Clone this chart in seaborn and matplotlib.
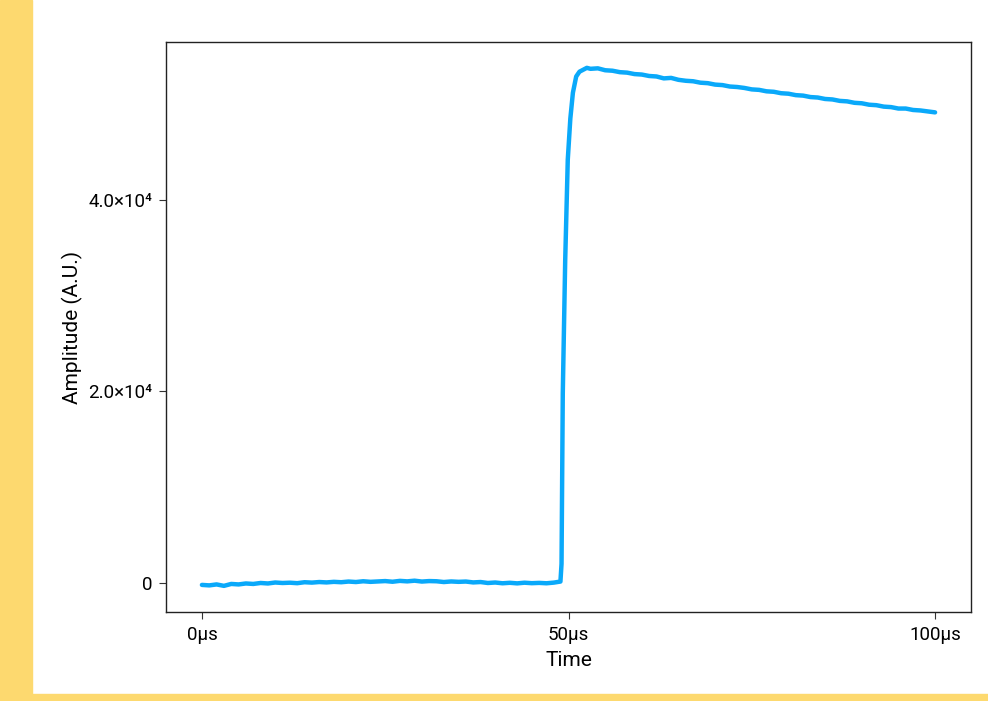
import numpy as np
import pandas as pd
import matplotlib.pyplot as plt
from matplotlib.patches import Rectangle
import seaborn as sns

# baseline before the step, 0..48 us
base_t = list(range(0, 49)) + [48.9]
base_v = [-200, -250, -150, -300, -100, -150, -50, -100, 0, -50,
          50, 0, 30, -20, 80, 40, 100, 60, 120, 80,
          150, 100, 180, 120, 160, 200, 130, 220, 170, 240,
          150, 200, 180, 100, 160, 120, 150, 60, 100, 0,
          50, -30, 20, -40, 30, -20, 10, -30, 40, 150]

# rising edge
rise_t = [49.05, 49.22, 49.55, 49.9, 50.25, 50.6, 51.05, 51.5, 52.0, 52.5]
rise_v = [2000, 19800, 33700, 44200, 48500, 51200, 52900, 53400, 53600, 53800]

# slow decay, 53..100 us
decay_t = list(range(53, 101))
decay_v = [53700, 53750, 53550, 53500, 53350, 53300, 53150, 53100, 52950, 52900,
           52700, 52750, 52550, 52450, 52400, 52250, 52200, 52050, 52000, 51850,
           51800, 51700, 51550, 51500, 51350, 51300, 51150, 51100, 50950, 50900,
           50750, 50700, 50550, 50500, 50350, 50300, 50150, 50100, 49950, 49900,
           49750, 49700, 49550, 49550, 49400, 49350, 49250, 49150]

x_ticks = [0, 50, 100]
x_labels = ["0μs", "50μs", "100μs"]
y_ticks = [0, 20000, 40000]
y_labels = ["0", "2.0×10⁴", "4.0×10⁴"]

df = pd.DataFrame({
    "Time": base_t + rise_t + decay_t,
    "Amplitude": base_v + rise_v + decay_v,
})

sns.set_theme(style="ticks")
plt.rcParams['font.family'] = ['Roboto', 'DejaVu Sans']

fig = plt.figure(figsize=(9.88, 7.01), dpi=100)
fig.patch.set_facecolor("white")
# yellow frame on the left and bottom
fig.patches.append(Rectangle((0, 0), 32 / 988, 1, transform=fig.transFigure,
                             color="#FDD96F", zorder=0))
fig.patches.append(Rectangle((0, 0), 1, 7 / 701, transform=fig.transFigure,
                             color="#FDD96F", zorder=0))

ax = fig.add_axes([166 / 988, 1 - 612 / 701, (971 - 166) / 988, (612 - 42) / 701])
sns.lineplot(data=df, x="Time", y="Amplitude", ax=ax, color="#0AA9FA",
             linewidth=3.2, estimator=None, sort=False)

ax.set_xlim(-4.9, 104.9)
ax.set_ylim(-3030, 56500)
ax.set_xticks(x_ticks)
ax.set_xticklabels(x_labels)
ax.set_yticks(y_ticks)
ax.set_yticklabels(y_labels)
ax.set_xlabel("Time", fontsize=15, labelpad=5, color="black")
ax.set_ylabel("Amplitude (A.U.)", fontsize=15, labelpad=4, color="black")
ax.tick_params(labelsize=13.5, length=5, width=0.8, color="#333333", pad=5,
               labelcolor="black")
for s in ax.spines.values():
    s.set_color("#222222")
    s.set_linewidth(1.0)

fig.savefig("out.png", dpi=100)
